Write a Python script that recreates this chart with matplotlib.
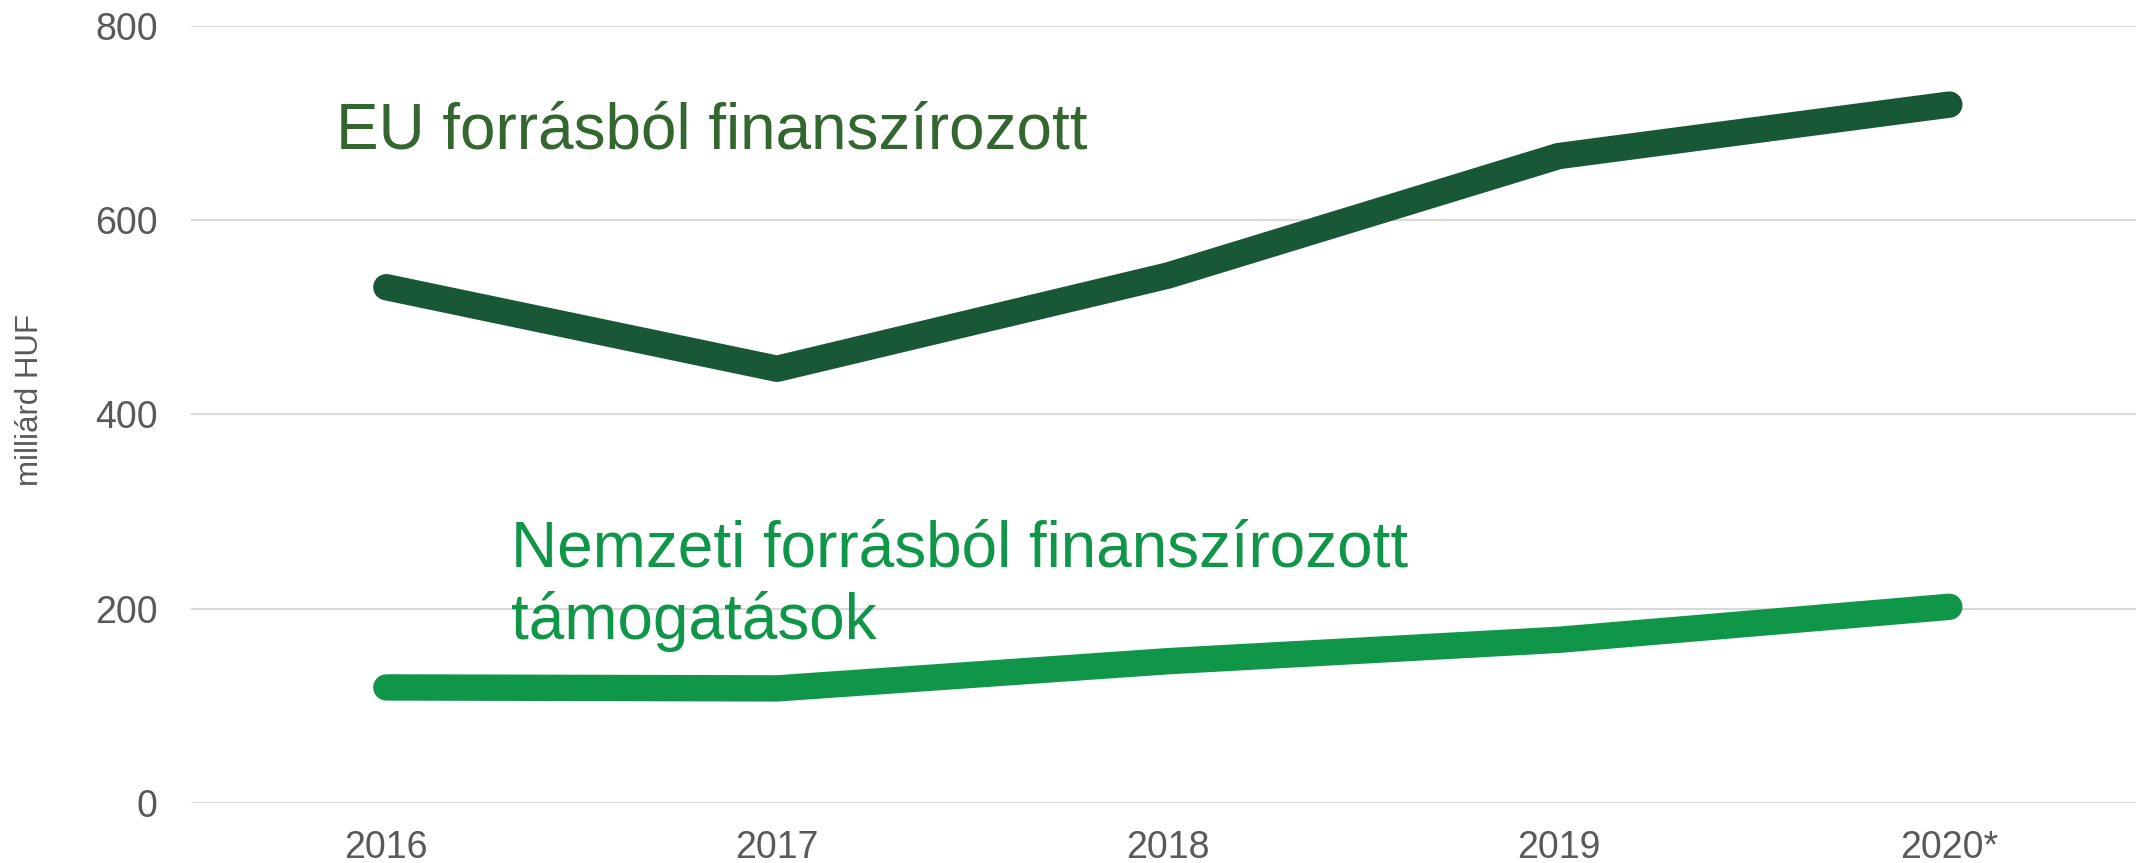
import numpy as np
import matplotlib
matplotlib.use('Agg')
import matplotlib.pyplot as plt

years = ['2016', '2017', '2018', '2019', '2020*']
eu_funded = [531, 447, 543, 666, 719]
national_funded = [119, 118, 146, 168, 202]

eu_label = 'EU forrásból finanszírozott'
national_label_1 = 'Nemzeti forrásból finanszírozott'
national_label_2 = 'támogatások'
y_label = 'milliárd HUF'
y_ticks = [0, 200, 400, 600, 800]

plt.rcParams['font.family'] = ['Liberation Sans', 'DejaVu Sans']

fig = plt.figure(figsize=(21.36, 8.63), dpi=100)
ax = fig.add_axes([0.0894, 0.0695, 0.9147, 0.9005])

x = np.arange(len(years))
ax.plot(x, eu_funded, color='#185836', lw=19, solid_capstyle='round',
        solid_joinstyle='round', zorder=3)
ax.plot(x, national_funded, color='#109648', lw=19, solid_capstyle='round',
        solid_joinstyle='round', zorder=3)

ax.set_xlim(-0.5, 4.5)
ax.set_ylim(0, 800)
ax.set_xticks(x)
ax.set_xticklabels(years)
ax.set_yticks(y_ticks)
ax.grid(axis='y', color='#D9D9D9', lw=1.5, zorder=0)
ax.set_axisbelow(True)
for s in ax.spines.values():
    s.set_visible(False)
ax.tick_params(axis='both', length=0, labelsize=27, labelcolor='#595959')
ax.tick_params(axis='x', pad=19.5)
ax.tick_params(axis='y', pad=24)

# series labels
ax.text(-0.128, 691, eu_label, color='#34672F', fontsize=46,
        ha='left', va='center')
ax.text(0.32, 243, national_label_1, color='#109648', fontsize=46,
        ha='left', va='baseline')
ax.text(0.32, 169, national_label_2, color='#109648', fontsize=46,
        ha='left', va='baseline')

fig.text(30 / 2136, 1 - 400 / 863, y_label, rotation=90, fontsize=22.5,
         color='#595959', ha='center', va='center')

fig.savefig('out.png', dpi=100)
